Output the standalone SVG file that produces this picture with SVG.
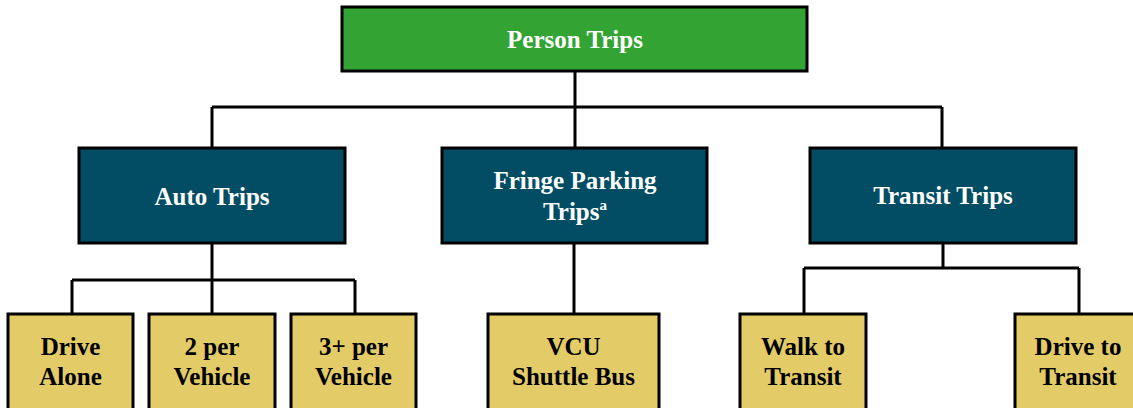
<svg xmlns="http://www.w3.org/2000/svg" width="1133" height="408" viewBox="0 0 1133 408">
  <style>
    .box { stroke: #000; stroke-width: 3; }
    .top { fill: #33A333; }
    .mid { fill: #024D63; }
    .leaf { fill: #E3CC67; }
    .lbl { font-family: "Liberation Serif", "Times New Roman", serif; font-weight: bold; font-size: 25px; text-anchor: middle; }
    .light { fill: #FFFFFF; }
    .dark { fill: #000000; }
    .wire { fill: none; stroke: #000; stroke-width: 3; }
  </style>

  <g id="connectors">
    <path class="wire" d="M575 71 V107 M212 107 H942 M212 107 V147 M575 107 V147 M942 107 V147"/>
    <path class="wire" d="M212 243 V280 M72 280 H355 M72 280 V314 M212 280 V314 M355 280 V314"/>
    <path class="wire" d="M574 243 V314"/>
    <path class="wire" d="M943 243 V268 M804 268 H1079 M804 268 V314 M1079 268 V314"/>
  </g>

  <g id="person-trips">
    <rect class="box top" x="342" y="7" width="465" height="64"/>
    <text class="lbl light" x="575" y="48">Person Trips</text>
  </g>

  <g id="auto-trips">
    <rect class="box mid" x="79" y="148" width="266" height="95"/>
    <text class="lbl light" x="212" y="205">Auto Trips</text>
  </g>

  <g id="fringe-parking-trips">
    <rect class="box mid" x="442" y="148" width="265" height="95"/>
    <text class="lbl light" x="575" y="189">Fringe Parking</text>
    <text class="lbl light" x="575" y="220">Trips<tspan font-size="15" dy="-10">a</tspan></text>
  </g>

  <g id="transit-trips">
    <rect class="box mid" x="810" y="148" width="266" height="95"/>
    <text class="lbl light" x="943" y="204">Transit Trips</text>
  </g>

  <g id="drive-alone">
    <rect class="box leaf" x="8" y="314" width="125" height="110"/>
    <text class="lbl dark" x="70.5" y="355">Drive</text>
    <text class="lbl dark" x="70.5" y="385">Alone</text>
  </g>

  <g id="two-per-vehicle">
    <rect class="box leaf" x="149" y="314" width="126" height="110"/>
    <text class="lbl dark" x="212" y="355">2 per</text>
    <text class="lbl dark" x="212" y="385">Vehicle</text>
  </g>

  <g id="three-plus-per-vehicle">
    <rect class="box leaf" x="291" y="314" width="125" height="110"/>
    <text class="lbl dark" x="353.5" y="355">3+ per</text>
    <text class="lbl dark" x="353.5" y="385">Vehicle</text>
  </g>

  <g id="vcu-shuttle-bus">
    <rect class="box leaf" x="488" y="314" width="171" height="110"/>
    <text class="lbl dark" x="573.5" y="355">VCU</text>
    <text class="lbl dark" x="573.5" y="385">Shuttle Bus</text>
  </g>

  <g id="walk-to-transit">
    <rect class="box leaf" x="740" y="314" width="126" height="110"/>
    <text class="lbl dark" x="803" y="355">Walk to</text>
    <text class="lbl dark" x="803" y="385">Transit</text>
  </g>

  <g id="drive-to-transit">
    <rect class="box leaf" x="1015" y="314" width="126" height="110"/>
    <text class="lbl dark" x="1078" y="355">Drive to</text>
    <text class="lbl dark" x="1078" y="385">Transit</text>
  </g>
</svg>
